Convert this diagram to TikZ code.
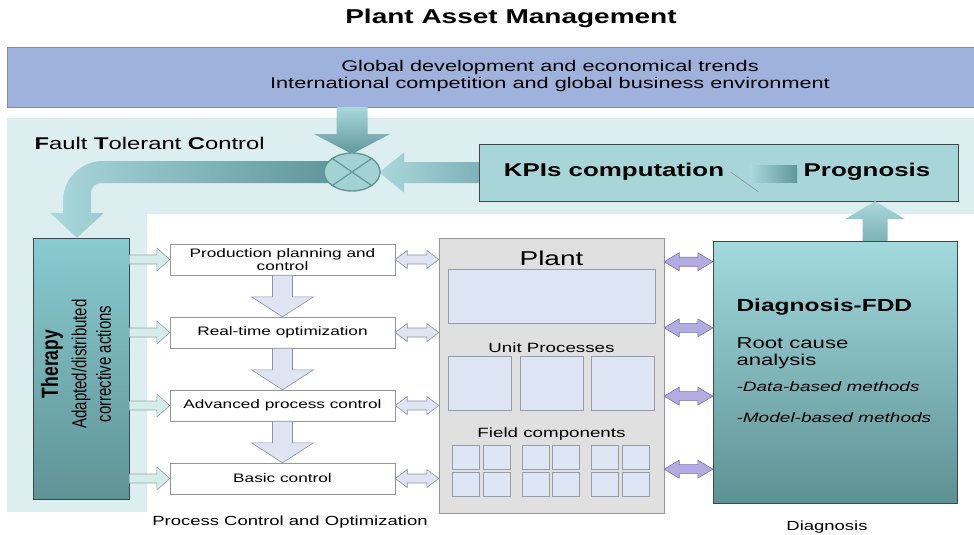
\documentclass[tikz,border=0pt]{standalone}
\usepackage{fontspec}
\setmainfont[FakeStretch=1.4]{Liberation Sans}
\newfontfamily\plainsans{Liberation Sans}
\usepackage{xcolor}
\usepackage{tikz}
\usetikzlibrary{calc}
\usetikzlibrary{positioning}
\usetikzlibrary{shapes.geometric}

\definecolor{bandblue}{RGB}{159,178,220}
\definecolor{bandline}{RGB}{130,140,165}
\definecolor{ftcbg}{RGB}{220,238,240}
\definecolor{tealbox}{RGB}{168,214,216}
\definecolor{darkedge}{RGB}{60,72,74}
\definecolor{therapytop}{RGB}{136,203,207}
\definecolor{therapybottom}{RGB}{96,147,150}
\definecolor{diagtop}{RGB}{162,218,222}
\definecolor{diagbottom}{RGB}{94,145,148}
\definecolor{teallight}{RGB}{170,216,220}
\definecolor{tealmid}{RGB}{125,178,182}
\definecolor{tealdark}{RGB}{96,150,155}
\definecolor{boxgray}{RGB}{150,150,150}
\definecolor{plantgray}{RGB}{224,224,224}
\definecolor{cellblue}{RGB}{222,230,245}
\definecolor{cellline}{RGB}{150,156,168}
\definecolor{hollowcyan}{RGB}{212,236,234}
\definecolor{hollowline}{RGB}{150,165,165}
\definecolor{lavender}{RGB}{222,228,242}
\definecolor{lavline}{RGB}{140,145,165}
\definecolor{violetfill}{RGB}{178,172,224}
\definecolor{violetline}{RGB}{120,115,175}
\definecolor{sumfill}{RGB}{162,210,212}
\definecolor{sumedge}{RGB}{100,150,152}

% style, from, to, half shaft, half head, head length
\newcommand{\hblock}[6]{%
  \path[#1] let \p1=(#2), \p2=(#3) in
    (\x1,\y1+#4) -- ({\x2-(#6)},\y1+#4) -- ({\x2-(#6)},\y1+#5) -- (\x2,\y1)
    -- ({\x2-(#6)},\y1-#5) -- ({\x2-(#6)},\y1-#4) -- (\x1,\y1-#4) -- cycle;}
\newcommand{\vblock}[6]{%
  \path[#1] let \p1=(#2), \p2=(#3) in
    (\x1+#4,\y1) -- (\x1+#4,{\y2+(#6)}) -- (\x1+#5,{\y2+(#6)}) -- (\x1,\y2)
    -- (\x1-#5,{\y2+(#6)}) -- (\x1-#4,{\y2+(#6)}) -- (\x1-#4,\y1) -- cycle;}
\newcommand{\hdouble}[6]{%
  \path[#1] let \p1=(#2), \p2=(#3) in
    (\x1,\y1) -- (\x1+#6,\y1+#5) -- (\x1+#6,\y1+#4) -- (\x2-#6,\y1+#4) -- (\x2-#6,\y1+#5)
    -- (\x2,\y1) -- (\x2-#6,\y1-#5) -- (\x2-#6,\y1-#4) -- (\x1+#6,\y1-#4) -- (\x1+#6,\y1-#5) -- cycle;}

\begin{document}
\begin{tikzpicture}[x=1pt, y=-1pt, node distance=73pt, every text node part/.style={align=center},
  procbox/.style={draw=boxgray, fill=white, minimum width=225pt, minimum height=31pt, inner sep=0pt, font=\fontsize{12.3}{12.5}\selectfont},
  cell/.style={draw=cellline, fill=cellblue, inner sep=0pt},
  plantlabel/.style={font=\fontsize{13.4}{16}\selectfont},
  kpitext/.style={font=\bfseries\fontsize{18.5}{22}\selectfont},
  hollow arrow/.style={draw=hollowline, fill=hollowcyan, line width=0.6pt},
  down arrow/.style={draw=lavline, fill=lavender, line width=0.6pt},
  left double/.style={draw=lavline, fill=lavender, line width=0.6pt},
  violet double/.style={draw=violetline, fill=violetfill, line width=0.6pt},
  down teal/.style={top color=teallight, bottom color=tealdark},
  up teal/.style={top color=teallight, bottom color=tealmid},
  left teal/.style={left color=teallight, right color=tealmid},
  bent teal/.style={left color=teallight, right color=tealdark}]

\useasboundingbox (0,0) rectangle (974,535);

\coordinate (sum c) at (352,172);

\node (title) at (511,18) [font=\bfseries\fontsize{20}{24}\selectfont] {Plant Asset Management};

\node (band) at (490.5,77) [draw=bandline, fill=bandblue, minimum width=967pt, minimum height=60pt, inner sep=0pt] {};
\node (trends) at (550,76) [font=\fontsize{15.5}{16.5}\selectfont] {Global development and economical trends\\International competition and global business environment};

\fill[ftcbg] (7,118) -- (974,118) -- (974,214) -- (147,214) -- (147,512) -- (7,512) -- cycle;
\node (ftc) at (31,143) [anchor=west, font=\fontsize{17}{20}\selectfont] {\textbf{F}ault \textbf{T}olerant \textbf{C}ontrol};

\node (kpi box) at (718.5,172.5) [draw=darkedge, fill=tealbox, minimum width=479pt, minimum height=57pt, inner sep=0pt] {};
\node (kpi) at (614,172) [kpitext] {KPIs computation};
\node (prog) at (867,172) [kpitext] {Prognosis};
\fill[left color=teallight, right color=tealdark] let \p1=(kpi.east), \p2=(prog.west) in (\x1+23pt,\y2+7pt) rectangle (\x2-3pt,\y2-10pt);
\draw[gray] let \p1=(kpi.east) in (\x1+3pt,\y1) -- (\x1+31pt,\y1-20pt);

\node (therapy) at (81,368.5) [draw=darkedge, top color=therapytop, bottom color=therapybottom, minimum width=96pt, minimum height=261pt, inner sep=0pt] {};
\node (therapy text) at (76,364) [xscale=1.35, rotate=90, font=\plainsans\fontsize{15}{18}\selectfont] {{\bfseries\fontsize{17.5}{20}\selectfont Therapy}\\[3pt]Adapted/distributed\\corrective actions};

\node (planning) at (282.5,259.5) [procbox] {Production planning and\\control};
\node (rto) [procbox, below of=planning] {Real-time optimization};
\node (apc) [procbox, below of=rto] {Advanced process control};
\node (basic) [procbox, below of=apc] {Basic control};

\node (plant) at (551.5,375.5) [draw=boxgray, fill=plantgray, minimum width=225pt, minimum height=275pt, inner sep=0pt] {};
\node (plant title) at (551.5,258) [font=\fontsize{20}{24}\selectfont] {Plant};
\node (plant cell) at (551.5,296) [cell, minimum width=207pt, minimum height=54pt] {};
\node (unit label) at (551.5,348) [plantlabel] {Unit Processes};
\foreach \cx [count=\i] in {479.5,551.5,623}
  \node (unit \i) at (\cx,383) [cell, minimum width=63pt, minimum height=54pt] {};
\node (field label) at (551.5,434) [plantlabel] {Field components};
\foreach \cx [count=\i] in {466,496.5,535.5,566,605,636}
  \foreach \cy [count=\j] in {457,484.5}
    \node (field \i\j) at (\cx,\cy) [cell, minimum width=27pt, minimum height=24pt] {};

\node (diag) at (835,372) [draw=darkedge, top color=diagtop, bottom color=diagbottom, minimum width=244pt, minimum height=262pt, inner sep=0pt] {};
\node (fdd) at (733,307) [anchor=west, font=\bfseries\fontsize{17.5}{20}\selectfont] {Diagnosis-FDD};
\node (root cause) at (733,353.5) [anchor=west, every text node part/.style={align=left}, font=\fontsize{15.8}{17}\selectfont] {Root cause\\analysis};
\node (data based) at (733,387) [anchor=west, font=\itshape\fontsize{13.6}{16}\selectfont] {-Data-based methods};
\node (model based) at (733,418) [anchor=west, font=\itshape\fontsize{13.6}{16}\selectfont] {-Model-based methods};

\node (pco caption) at (290,522) [font=\fontsize{13.2}{15}\selectfont] {Process Control and Optimization};
\node (diag caption) at (827,527) [font=\fontsize{13.2}{15}\selectfont] {Diagnosis};

\foreach \pbox in {planning,rto,apc,basic}
  \hblock{hollow arrow}{therapy.east |- \pbox.west}{\pbox.west}{4.5pt}{11.5pt}{13pt};
\foreach \pbox in {planning,rto,apc,basic}
  \hdouble{left double}{\pbox.east}{plant.west}{4.5pt}{9pt}{12pt};
\vblock{down arrow}{planning.south}{rto.north}{10pt}{31pt}{20pt};
\vblock{down arrow}{rto.south}{apc.north}{10pt}{31pt}{20pt};
\vblock{down arrow}{apc.south}{basic.north}{10pt}{31pt}{20pt};
\foreach \pos in {0.087,0.327,0.575,0.84}
  \hdouble{violet double}{$(plant.north east)!\pos!(plant.south east)$}{diag.west}{4.5pt}{9pt}{15pt};

\vblock{up teal}{$(diag.north)+(40,0)$}{kpi box.south}{12.5pt}{30pt}{-18pt};
\vblock{down teal}{sum c |- band.south}{$(sum c)+(0,-18)$}{15.5pt}{38pt}{20pt};
\hblock{left teal}{kpi box.west}{$(sum c)+(27,0)$}{10.5pt}{20pt}{-25pt};
\path[bent teal] let \p1=($(sum c)+(-20,0)$), \p2=($(therapy.north)+(-4,0)$) in
  (\x1,\y1+11pt) -- (\x2+26pt,\y1+11pt) .. controls (\x2+3.9pt,\y1+11pt) and (\x2-14pt,\y1-6.9pt) .. (\x2-14pt,\y1-29pt)
  -- (\x2-14pt,\y2+25pt) -- (\x2-27pt,\y2+25pt) -- (\x2,\y2) -- (\x2+27pt,\y2+25pt) -- (\x2+14pt,\y2+25pt)
  -- (\x2+14pt,\y1-21pt) .. controls (\x2+14pt,\y1-15.5pt) and (\x2+18.5pt,\y1-11pt) .. (\x2+24pt,\y1-11pt)
  -- (\x1,\y1-11pt) -- cycle;

\node (sum) at (sum c) [ellipse, draw=sumedge, line width=1.4pt, fill=sumfill, minimum width=56pt, minimum height=38pt, inner sep=0pt] {};
\draw[sumedge, line width=1.2pt] (sum.north west) -- (sum.south east) (sum.north east) -- (sum.south west);

\end{tikzpicture}
\end{document}
